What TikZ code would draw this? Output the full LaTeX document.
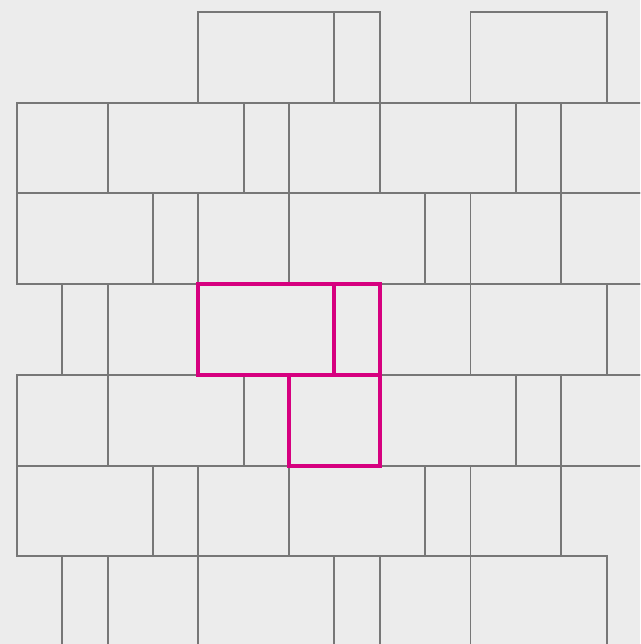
\documentclass[tikz,border=0pt]{standalone}
\usetikzlibrary{positioning}

\definecolor{tilegray}{HTML}{777777}
\definecolor{tilepink}{HTML}{D6007F}
\definecolor{paper}{HTML}{ECECEC}

\begin{document}
\begin{tikzpicture}[
    tile/.style={draw=tilegray, line width=1.25pt},
    picked/.style={draw=tilepink, line width=2.5pt},
]

% Background
\fill[paper] (-0.375,0.265) rectangle (13.738,-13.936);
\useasboundingbox (-0.375,0.265) rectangle (13.738,-13.936);
\clip (-0.375,0.265) rectangle (13.738,-13.936);

% Row 0
\foreach \a/\b in {4/7, 7/8, 10/13}
    \draw[tile] (\a,0) rectangle (\b,-2);

% Row 1
\foreach \a/\b in {0/2, 2/5, 5/6, 6/8, 8/11, 11/12, 12/14}
    \draw[tile] (\a,-2) rectangle (\b,-4);

% Row 2
\foreach \a/\b in {0/3, 3/4, 4/6, 6/9, 9/10, 10/12, 12/15}
    \draw[tile] (\a,-4) rectangle (\b,-6);

% Row 3
\foreach \a/\b in {1/2, 2/4, 4/7, 7/8, 8/10, 10/13, 13/14}
    \draw[tile] (\a,-6) rectangle (\b,-8);

% Row 4
\foreach \a/\b in {0/2, 2/5, 5/6, 6/8, 8/11, 11/12, 12/14}
    \draw[tile] (\a,-8) rectangle (\b,-10);

% Row 5
\foreach \a/\b in {0/3, 3/4, 4/6, 6/9, 9/10, 10/12}
    \draw[tile] (\a,-10) rectangle (\b,-12);

% Row 6
\foreach \a/\b in {1/2, 2/4, 4/7, 7/8, 8/10, 10/13}
    \draw[tile] (\a,-12) rectangle (\b,-14);

% Highlighted group
\draw[picked] (4,-6) rectangle (7,-8);
\draw[picked] (7,-6) rectangle (8,-8);
\draw[picked] (6,-8) rectangle (8,-10);

\end{tikzpicture}
\end{document}
